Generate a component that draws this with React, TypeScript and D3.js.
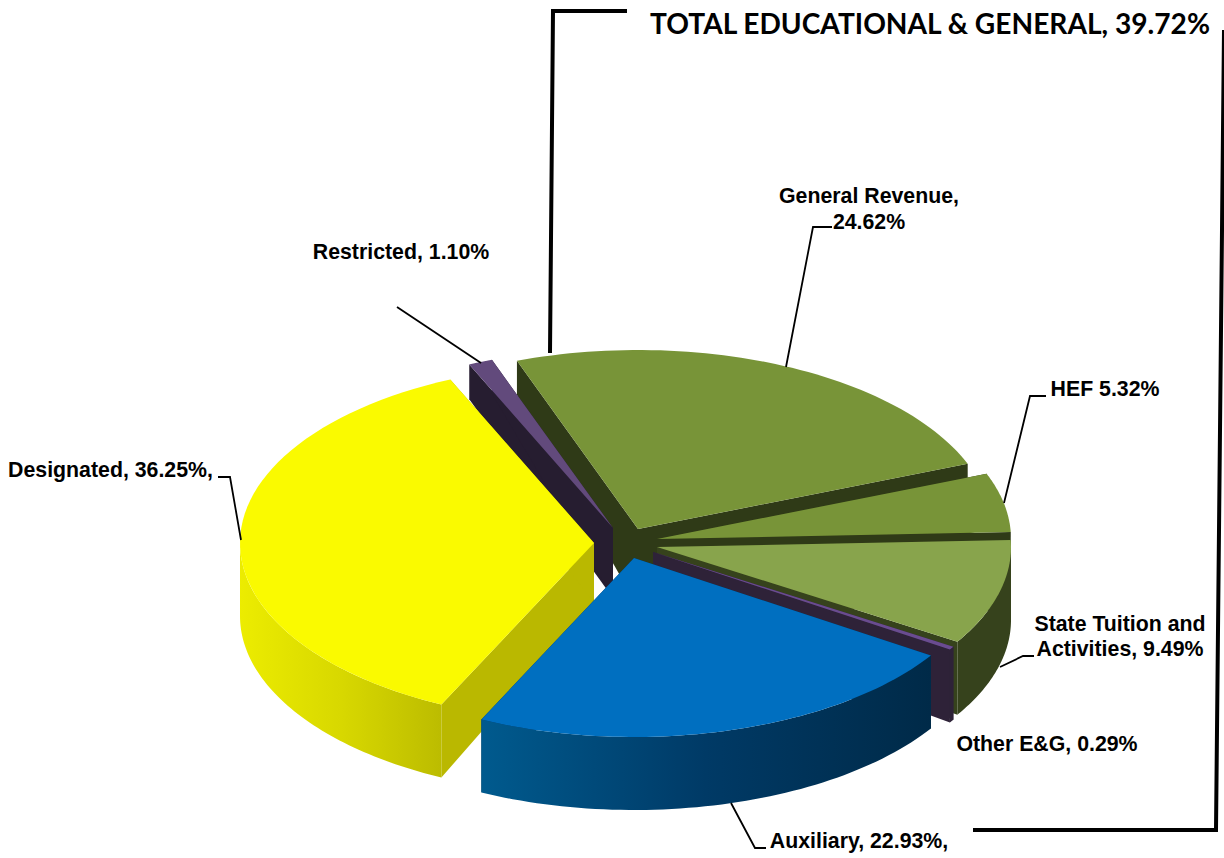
import React from "react";
import * as d3 from "d3";

const sliceNames = ["General Revenue", "HEF", "State Tuition and Activities", "Other E&G", "Auxiliary", "Designated", "Restricted"];
const sliceValues = [24.62, 5.32, 9.49, 0.29, 22.93, 36.25, 1.1];
const topColors = ["#789438", "#789438", "#88a44c", "#6a4c90", "#006fc0", "#fafa00", "#624a7c"];
const sideColors = ["#2f3a17", "#2f3a17", "#36421c", "#2e2238", "#00304f", "#bab800", "#261d30"];
const wallStops: string[][] = [[], [], ["#36421c", "#36421c"], ["#2e2238", "#2e2238"], ["#005a8e", "#003a66", "#002a48"], ["#ecec00", "#d8d800", "#bcbc00"], []];

// layout of the exploded slices: apex of each top face and the depth of its inner corner
const apexX = [638, 657, 657, 653, 634, 594, 613];
const apexY = [529, 539, 547, 552, 558, 543, 528];
const apexDepth = [78, 60, 60, 62, 60, 60, 70];
const RX = 354;
const RY = 179;

const labels = [
  { lines: ["General Revenue,", "24.62%"], x: 869, y: 203, dy: 26 },
  { lines: ["HEF 5.32%"], x: 1105, y: 396, dy: 0 },
  { lines: ["State Tuition and", "Activities, 9.49%"], x: 1120, y: 631, dy: 25 },
  { lines: ["Other E&G, 0.29%"], x: 1047, y: 751, dy: 0 },
  { lines: ["Auxiliary, 22.93%,"], x: 859, y: 848, dy: 0 },
  { lines: ["Designated, 36.25%,"], x: 110.5, y: 477, dy: 0 },
  { lines: ["Restricted, 1.10%"], x: 401, y: 259, dy: 0 },
];

const leaders: [number, number][][] = [
  [[786, 367], [813, 227], [832, 227]],
  [[1004, 503], [1030, 396], [1046, 396]],
  [[1000, 667], [1023, 656], [1034, 656]],
  [[731, 803], [755, 848], [766, 848]],
  [[241, 540], [230, 477], [218, 477]],
  [[397, 307], [481, 363]],
];
const brackets: [number, number][][] = [
  [[627, 11], [553, 11], [550, 353]],
  [[973, 830], [1216, 830], [1224, 30]],
];

const rad = Math.PI / 180;
const pieGen = d3.pie<number>().sort(null).startAngle(-20 * rad).endAngle(340 * rad);
const lineGen = d3.line<[number, number]>();

function outerDepth(deg: number) {
  const a = ((deg % 360) + 360) % 360;
  const dist = Math.min(a, 360 - a);
  const u = Math.min(1, dist / 90);
  return 32 + 41 * u * u;
}

export default function App() {
  const arcs = pieGen(sliceValues);
  const rim = (i: number, deg: number): [number, number] => [
    apexX[i] + RX * Math.sin(deg * rad),
    apexY[i] - RY * Math.cos(deg * rad),
  ];
  const sample = (a: number, b: number) => d3.range(0, 61).map((k) => a + ((b - a) * k) / 60);

  const drawOrder = [0, 1, 2, 3, 6, 5, 4];

  return (
    <svg
      width={1224}
      height={858}
      viewBox="0 0 1224 858"
      style={{ position: "absolute", left: 0, top: 0, background: "#fff" }}
    >
      <defs>
        {arcs.map((arc, i) => {
          const stops = wallStops[i];
          if (!stops.length) return null;
          const a = Math.max(arc.startAngle / rad, 90);
          const b = Math.min(arc.endAngle / rad, 270);
          const xs = sample(a, b).map((t) => rim(i, t)[0]);
          const x0 = d3.min(xs)!;
          const x1 = d3.max(xs)!;
          return (
            <linearGradient key={i} id={`wall${i}`} gradientUnits="userSpaceOnUse" x1={x0} x2={x1} y1={0} y2={0}>
              {stops.map((c, k) => (
                <stop key={k} offset={k / (stops.length - 1)} stopColor={c} />
              ))}
            </linearGradient>
          );
        })}
      </defs>

      {drawOrder.map((i) => {
        const arc = arcs[i];
        const a = arc.startAngle / rad;
        const b = arc.endAngle / rad;
        const apex: [number, number] = [apexX[i], apexY[i]];
        const apexLow: [number, number] = [apexX[i], apexY[i] + apexDepth[i]];
        const radial = (deg: number) => {
          const p = rim(i, deg);
          const q: [number, number] = [p[0], p[1] + outerDepth(deg)];
          return lineGen([apex, p, q, apexLow]) + "Z";
        };
        const wa = Math.max(a, 90);
        const wb = Math.min(b, 270);
        let wall: string | null = null;
        if (wb > wa) {
          const ts = sample(wa, wb);
          const up = ts.map((t) => rim(i, t));
          const low = ts
            .slice()
            .reverse()
            .map((t): [number, number] => {
              const p = rim(i, t);
              return [p[0], p[1] + outerDepth(t)];
            });
          wall = lineGen([...up, ...low]) + "Z";
        }
        const top = lineGen([apex, ...sample(a, b).map((t) => rim(i, t))]) + "Z";
        return (
          <g key={sliceNames[i]}>
            <path d={radial(a)} fill={sideColors[i]} />
            <path d={radial(b)} fill={sideColors[i]} />
            {wall && <path d={wall} fill={wallStops[i].length ? `url(#wall${i})` : sideColors[i]} />}
            <path d={top} fill={topColors[i]} />
          </g>
        );
      })}

      {leaders.map((pts, i) => (
        <path key={i} d={lineGen(pts)!} fill="none" stroke="#000" strokeWidth={1.8} />
      ))}
      {brackets.map((pts, i) => (
        <path key={i} d={lineGen(pts)!} fill="none" stroke="#000" strokeWidth={4} />
      ))}

      {labels.map((l, i) => (
        <text
          key={i}
          textAnchor="middle"
          fontFamily="'Liberation Sans', Arial, sans-serif"
          fontWeight="bold"
          fontSize={21.3}
          fill="#000"
        >
          {l.lines.map((s, k) => (
            <tspan key={k} x={l.x} y={l.y + k * l.dy}>
              {s}
            </tspan>
          ))}
        </text>
      ))}
      <text x={650} y={34} fontFamily="Lato, sans-serif" fontWeight="bold" fontSize={28} fill="#000" textLength={560} lengthAdjust="spacingAndGlyphs">
        TOTAL EDUCATIONAL &amp; GENERAL, 39.72%
      </text>
    </svg>
  );
}
